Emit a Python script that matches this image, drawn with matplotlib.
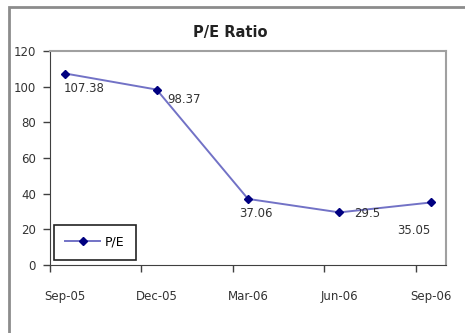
import matplotlib
matplotlib.use("Agg")
import matplotlib.pyplot as plt
import pandas as pd
from matplotlib.patches import Rectangle

# quarterly P/E values
quarters = ["Sep-05", "Dec-05", "Mar-06", "Jun-06", "Sep-06"]
pe = [107.38, 98.37, 37.06, 29.5, 35.05]
# where each value label sits relative to its point (pixels, x right / y up)
label_offsets = [(19, -15), (27, -10), (8, -15), (28, -1), (-17, -28)]

dates = pd.to_datetime(quarters, format="%b-%y")
month_idx = [(d.year - dates[0].year) * 12 + d.month - dates[0].month for d in dates]
x_mid = [m + 0.5 for m in month_idx]

W, H = 465, 333
fig = plt.figure(figsize=(W / 100, H / 100), dpi=100)
fig.patch.set_facecolor("white")

# outer chart border
fig.patches.append(Rectangle((9 / W, -0.2), 1.2, (H - 7) / H + 0.2,
                             transform=fig.transFigure, fill=False,
                             edgecolor="#8c8c8c", lw=2))

ax = fig.add_axes([50 / W, (H - 265) / H, (446 - 50) / W, (265 - 51) / H])

ax.plot(x_mid, pe, color="#7272c6", lw=1.4, marker="D", markersize=4.5,
        markerfacecolor="#000080", markeredgecolor="#000080", label="P/E")

for x, v, off in zip(x_mid, pe, label_offsets):
    ax.annotate(f"{v:g}", (x, v), xytext=off, textcoords="offset pixels",
                ha="center", va="center", fontsize=8.5, color="#333333")

ax.set_xlim(0, month_idx[-1] + 1)
ax.set_ylim(0, 120)
ax.set_yticks(range(0, 121, 20))
ax.set_xticks(month_idx)
ax.set_xticklabels([])
ax.set_xticks(x_mid, minor=True)
ax.set_xticklabels(quarters, minor=True)
ax.tick_params(axis="x", which="minor", length=0, pad=18, labelsize=8.5,
               labelcolor="#333333")
ax.tick_params(axis="x", which="major", length=5, width=1, color="#404040")
ax.tick_params(axis="y", length=5, width=1, color="#404040", pad=5,
               labelsize=8.5, labelcolor="#333333")

for s in ("left", "bottom"):
    ax.spines[s].set_color("#404040")
for s in ("top", "right"):
    ax.spines[s].set_color("#a0a0a0")
    ax.spines[s].set_linewidth(1.5)

fig.text(230 / W, (H - 33) / H, "P/E Ratio", ha="center", va="center",
         fontsize=10.5, fontweight="bold", color="#222222")

leg = ax.legend(loc="lower left", bbox_to_anchor=(54 / W, (H - 260) / H),
                bbox_transform=fig.transFigure, borderaxespad=0,
                fancybox=False, framealpha=1, edgecolor="#222222",
                fontsize=9, handlelength=2.8, handletextpad=0.4,
                borderpad=0.9)
leg.get_frame().set_linewidth(1.2)

fig.savefig("out.png", dpi=100)
